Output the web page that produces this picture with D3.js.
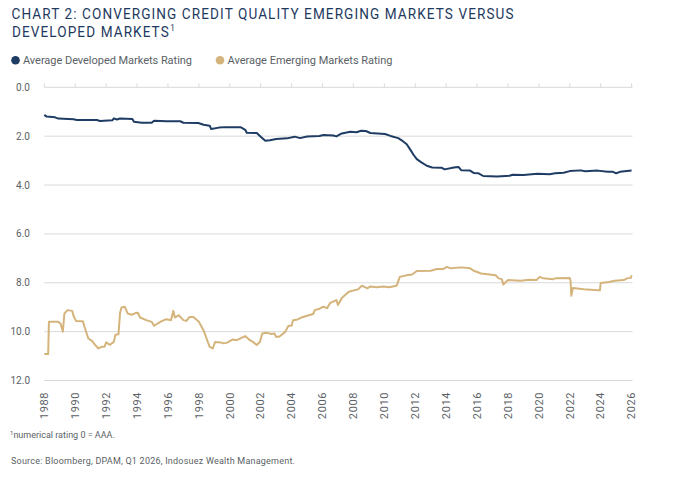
<!DOCTYPE html>
<html>
<head>
<meta charset="utf-8">
<script src="https://cdn.jsdelivr.net/npm/d3@7/dist/d3.min.js"></script>
<style>
  html, body { margin: 0; padding: 0; background: #fff; }
  svg { display: block; font-family: Roboto, "Noto Sans", sans-serif; }
</style>
</head>
<body>
<svg id="chart" width="678" height="481"></svg>
<script>
// ---------- DATA ----------
const titleLines = ["CHART 2: CONVERGING CREDIT QUALITY EMERGING MARKETS VERSUS", "DEVELOPED MARKETS"];
const seriesNames = ["Average Developed Markets Rating", "Average Emerging Markets Rating"];
const yTicks = [0, 2, 4, 6, 8, 10, 12];
const xTicks = [1988,1990,1992,1994,1996,1998,2000,2002,2004,2006,2008,2010,2012,2014,2016,2018,2020,2022,2024,2026];
const footnote = "numerical rating 0 = AAA.";
const source = "Source: Bloomberg, DPAM, Q1 2026, Indosuez Wealth Management.";

const dmYears = [1988.0,1988.15,1988.7,1988.9,1989.9,1990.1,1991.4,1991.6,1992.4,1992.5,1992.7,1992.9,1993.7,1993.8,1994.3,1994.95,1995.1,1995.9,1996.8,1997.0,1997.97,1998.3,1998.7,1998.8,1999.3,1999.7,2000.7,2001.0,2001.1,2001.75,2002.0,2002.3,2002.6,2003.0,2003.7,2004.2,2004.55,2005.0,2005.8,2006.06,2006.7,2006.9,2007.1,2007.25,2007.8,2008.2,2008.5,2008.8,2009.1,2010.05,2010.4,2010.9,2011.1,2011.45,2011.7,2011.9,2012.1,2012.4,2012.75,2013.1,2013.7,2013.9,2014.5,2014.8,2014.97,2015.55,2015.8,2016.1,2016.4,2017.3,2018.1,2018.3,2019.0,2019.9,2020.7,2021.05,2021.6,2022.0,2022.7,2023.0,2023.8,2024.45,2024.8,2025.0,2025.25,2025.7,2026.0];
const dmValues = [1.13,1.20,1.23,1.28,1.31,1.34,1.34,1.38,1.35,1.27,1.32,1.28,1.30,1.41,1.45,1.45,1.37,1.39,1.39,1.45,1.46,1.53,1.57,1.71,1.65,1.63,1.63,1.74,1.86,1.87,2.02,2.19,2.17,2.12,2.09,2.02,2.08,2.01,1.99,1.95,1.97,2.01,1.94,1.89,1.82,1.84,1.78,1.79,1.87,1.91,1.99,2.08,2.16,2.33,2.57,2.77,2.94,3.07,3.21,3.28,3.29,3.36,3.28,3.26,3.39,3.41,3.51,3.52,3.63,3.65,3.62,3.58,3.59,3.54,3.56,3.52,3.50,3.43,3.40,3.44,3.41,3.46,3.46,3.52,3.46,3.43,3.41];

const emYears = [1988.0,1988.25,1988.3,1988.9,1989.05,1989.2,1989.3,1989.5,1989.8,1989.9,1990.05,1990.5,1990.6,1990.85,1991.1,1991.3,1991.5,1991.7,1991.9,1992.0,1992.25,1992.5,1992.6,1992.8,1992.9,1993.0,1993.2,1993.4,1993.65,1993.9,1994.05,1994.2,1994.6,1994.95,1995.1,1995.4,1995.6,1995.9,1996.2,1996.35,1996.45,1996.7,1997.0,1997.2,1997.4,1997.65,1998.0,1998.3,1998.5,1998.7,1998.9,1999.05,1999.4,1999.6,1999.8,2000.2,2000.45,2001.0,2001.3,2001.5,2001.75,2001.95,2002.1,2002.4,2002.7,2002.9,2003.0,2003.2,2003.6,2003.8,2004.0,2004.1,2004.4,2004.65,2005.0,2005.4,2005.5,2005.85,2006.05,2006.3,2006.5,2006.9,2007.0,2007.25,2007.5,2007.7,2008.1,2008.3,2008.55,2008.9,2009.1,2009.5,2009.95,2010.3,2010.8,2011.0,2011.45,2011.8,2012.1,2013.0,2013.4,2013.8,2014.05,2014.3,2015.0,2015.55,2015.8,2016.25,2016.8,2017.2,2017.4,2017.6,2017.7,2018.0,2018.8,2019.4,2019.85,2020.05,2020.3,2020.9,2021.05,2022.0,2022.05,2022.1,2022.2,2022.9,2023.8,2023.95,2024.0,2024.55,2024.9,2025.5,2025.7,2025.95,2026.0];
const emValues = [10.92,10.92,9.60,9.60,9.67,10.00,9.26,9.12,9.15,9.37,9.56,9.58,9.80,10.28,10.39,10.55,10.69,10.62,10.62,10.44,10.54,10.42,10.13,10.11,9.23,9.01,8.98,9.26,9.31,9.24,9.23,9.42,9.53,9.60,9.76,9.64,9.57,9.49,9.53,9.15,9.42,9.33,9.53,9.56,9.40,9.40,9.60,9.94,10.28,10.62,10.69,10.42,10.44,10.48,10.46,10.32,10.35,10.18,10.35,10.42,10.55,10.42,10.08,10.05,10.10,10.08,10.21,10.21,10.00,9.76,9.76,9.53,9.50,9.42,9.35,9.28,9.12,9.05,8.98,9.04,8.82,8.71,8.91,8.62,8.48,8.37,8.30,8.27,8.12,8.23,8.15,8.18,8.15,8.18,8.12,7.76,7.69,7.66,7.52,7.51,7.44,7.44,7.35,7.41,7.37,7.41,7.51,7.62,7.66,7.69,7.82,7.85,8.07,7.89,7.92,7.88,7.89,7.76,7.82,7.86,7.82,7.80,7.92,8.53,8.21,8.27,8.31,8.31,8.01,7.97,7.92,7.89,7.82,7.80,7.69];

// ---------- STYLE ----------
const colors = ["#1f3c64", "#d5b47c"];
const gridColor = "#d9d9d9";
const textGray = "#5b5f66";
const titleColor = "#1e3a5f";

const svg = d3.select("#chart");
const plot = { left: 44.3, right: 631.6, top: 87.3, bottom: 380.5 };

const x = d3.scaleLinear().domain([1988, 2026]).range([plot.left, plot.right]);
const y = d3.scaleLinear().domain([0, 12]).range([plot.top, plot.bottom]);

function fit(sel, target) {
  sel.each(function () {
    const n = this.textContent.length;
    const w = this.getComputedTextLength();
    if (n > 1) d3.select(this).attr("letter-spacing", ((target - w) / (n - 1)).toFixed(3));
  });
}

// Title: letter-spaced face, sized so that line 2 spans the reference width
const t2 = svg.append("text").attr("font-size", 15).attr("fill", titleColor)
  .attr("letter-spacing", 1.2);
const t2main = t2.append("tspan").text(titleLines[1]);
const k = 158 / t2main.node().getComputedTextLength();
t2.append("tspan").attr("font-size", 9).attr("dy", -6).attr("dx", 0.5).attr("letter-spacing", 0).text("1");
t2.attr("transform", `translate(12,36.7) scale(${k},1)`);
svg.append("text").attr("font-size", 15).attr("fill", titleColor)
  .attr("letter-spacing", 1.2).attr("transform", `translate(11.5,19) scale(${k},1)`)
  .text(titleLines[0]);

// Legend
const legendX = [15.5, 220];
seriesNames.forEach((name, i) => {
  svg.append("circle").attr("cx", legendX[i]).attr("cy", 60.3).attr("r", 4.3).attr("fill", colors[i]);
  const lt = svg.append("text").attr("x", legendX[i] + 7.5).attr("y", 64)
    .attr("font-size", 11).attr("fill", textGray).text(name);
  fit(lt, i === 0 ? 169 : 165);
});

// Gridlines
svg.append("g").selectAll("line").data(yTicks).join("line")
  .attr("x1", plot.left).attr("x2", plot.right + 1)
  .attr("y1", d => y(d)).attr("y2", d => y(d))
  .attr("stroke", gridColor).attr("stroke-width", 1);

// Top tick marks
svg.append("g").selectAll("line").data(xTicks).join("line")
  .attr("x1", d => x(d)).attr("x2", d => x(d))
  .attr("y1", y(0) - 4).attr("y2", y(0))
  .attr("stroke", gridColor).attr("stroke-width", 1);

// Y labels
svg.append("g").selectAll("text").data(yTicks).join("text")
  .attr("x", 30).attr("y", d => y(d)).attr("dy", "0.35em")
  .attr("text-anchor", "end").attr("font-size", 10).attr("fill", textGray)
  .text(d => d.toFixed(1));

// X labels (rotated)
svg.append("g").selectAll("text").data(xTicks).join("text")
  .attr("transform", d => `translate(${x(d) + 3.8},392) rotate(-90)`)
  .attr("text-anchor", "end").attr("font-size", 11).attr("fill", textGray)
  .attr("letter-spacing", 0.6)
  .text(d => d);

// Lines
const line = d3.line().x(d => x(d[0])).y(d => y(d[1]));
const dm = dmYears.map((d, i) => [d, dmValues[i]]);
const em = emYears.map((d, i) => [d, emValues[i]]);
svg.append("path").datum(em).attr("d", line).attr("fill", "none")
  .attr("stroke", colors[1]).attr("stroke-width", 2).attr("stroke-linejoin", "round");
svg.append("path").datum(dm).attr("d", line).attr("fill", "none")
  .attr("stroke", colors[0]).attr("stroke-width", 2).attr("stroke-linejoin", "round");

// Footnotes
const fn = svg.append("text").attr("x", 10).attr("y", 438).attr("font-size", 9).attr("fill", textGray);
fn.append("tspan").attr("font-size", 6).attr("dy", -3).text("1");
fn.append("tspan").attr("dy", 3).text(footnote);
const src = svg.append("text").attr("x", 11).attr("y", 464).attr("font-size", 9)
  .attr("fill", textGray).text(source);
fit(src, 284);
</script>
</body>
</html>
